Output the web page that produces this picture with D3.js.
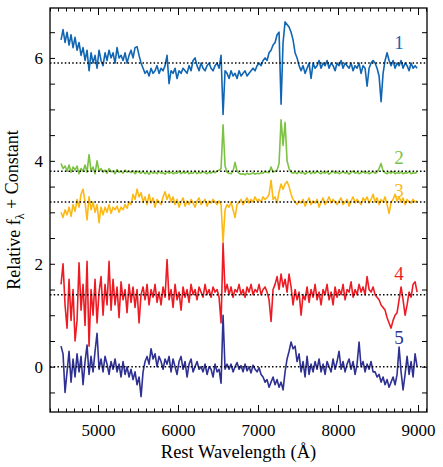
<!DOCTYPE html>
<html><head><meta charset="utf-8">
<script src="https://cdn.jsdelivr.net/npm/d3@7"></script>
<style>body{margin:0;background:#fff} svg{display:block}</style>
</head><body>
<svg id="chart" width="443" height="467"></svg>
<script>
// ---------- DATA ----------
const wavelength = d3.range(4538, 8989, 25); // rest wavelength grid (Å), 179 points
const seriesNames = ["1", "2", "3", "4", "5"];
const constants = [5.9, 3.8, 3.2, 1.4, 0];   // dotted reference levels
const xTickLabels = [5000, 6000, 7000, 8000, 9000];
const yTickLabels = [0, 2, 4, 6];

const s1 = [
6.35,6.55,6.3,6.5,6.25,6.45,6.2,6.4,6.15,6.3,
6.05,6.2,5.95,6.15,5.75,6.1,5.9,6.05,5.8,6.15,
5.95,5.85,6.1,5.95,6.15,6.0,6.1,5.9,6.2,6.0,
6.05,5.95,6.1,5.9,6.05,6.15,6.0,6.2,6.22,6.05,
5.9,5.8,5.7,5.75,5.65,5.8,5.7,5.75,5.85,5.7,
5.8,5.75,5.85,6.05,5.5,5.75,5.7,5.8,5.6,5.75,
5.7,5.8,5.75,5.7,5.85,5.75,5.95,6.0,5.85,5.75,
5.9,5.8,5.75,5.85,5.9,5.8,5.75,5.85,5.9,5.8,
6.05,4.9,5.75,5.7,5.6,5.75,5.65,5.7,5.6,5.75,
5.65,5.7,5.75,5.65,5.7,5.75,5.8,5.75,5.85,5.9,
5.85,5.95,6.0,5.95,6.1,6.15,6.25,6.3,6.45,6.5,
5.1,6.3,6.7,6.65,6.6,6.5,6.35,6.1,6.0,5.85,
5.75,5.85,5.7,5.8,5.9,5.6,5.9,5.8,5.85,5.95,
5.8,5.9,5.85,5.95,5.8,5.9,5.85,5.75,5.9,5.85,
5.95,5.8,5.9,5.85,5.8,5.9,5.75,5.85,5.8,5.9,
5.7,5.85,5.8,5.45,5.8,5.9,5.95,5.9,5.8,5.65,
5.15,5.7,5.95,6.1,5.95,5.85,5.95,5.8,5.9,5.85,
5.95,5.8,5.9,5.85,5.75,5.9,5.8,5.85,5.8];

const s2 = [
3.95,3.85,3.9,3.8,3.92,3.78,3.88,3.82,3.9,3.75,
3.85,3.8,3.92,3.78,4.12,3.8,3.88,3.75,4.0,3.8,
3.85,3.78,3.82,3.76,3.85,3.79,3.8,3.75,3.83,3.78,
3.8,3.76,3.82,3.78,3.8,3.77,3.81,3.75,3.8,3.78,
3.76,3.8,3.75,3.78,3.74,3.79,3.76,3.78,3.75,3.8,
3.76,3.77,3.74,3.79,3.76,3.78,3.75,3.77,3.76,3.8,
3.75,3.78,3.76,3.79,3.75,3.77,3.76,3.8,3.75,3.78,
3.76,3.79,3.77,3.75,3.78,3.76,3.79,3.77,3.8,3.82,
3.85,4.7,3.9,3.78,3.76,3.75,3.8,3.97,3.8,3.76,
3.74,3.75,3.73,3.76,3.74,3.75,3.77,3.74,3.76,3.75,
3.77,3.76,3.79,3.78,3.77,3.88,3.78,3.8,3.82,3.95,
4.8,4.3,4.75,4.0,3.85,3.78,3.76,3.78,3.75,3.79,
3.76,3.78,3.74,3.77,3.79,3.75,3.78,3.76,3.8,3.77,
3.75,3.78,3.76,3.79,3.74,3.77,3.8,3.76,3.78,3.75,
3.77,3.79,3.76,3.78,3.74,3.77,3.8,3.76,3.78,3.75,
3.77,3.79,3.76,3.78,3.75,3.77,3.79,3.76,3.78,3.85,
3.95,3.8,3.77,3.75,3.78,3.76,3.79,3.75,3.77,3.76,
3.78,3.75,3.77,3.76,3.79,3.75,3.77,3.76,3.78];

const s3 = [
3.0,2.9,3.05,2.95,3.1,2.92,3.15,3.02,3.25,3.1,
3.35,3.45,3.2,2.85,3.3,3.05,3.2,3.0,3.15,2.8,
3.1,2.95,3.1,3.0,3.15,2.98,3.1,3.05,3.12,3.0,
3.1,3.05,3.15,3.08,3.2,3.15,3.35,3.25,3.45,3.3,
3.38,3.2,3.3,3.15,3.35,3.18,3.28,3.1,3.25,3.2,
3.15,3.3,3.4,3.25,3.35,3.2,3.3,3.15,3.25,3.1,
3.2,3.28,3.12,3.22,3.15,3.25,3.18,3.1,3.22,3.28,
3.15,3.2,3.25,3.12,3.22,3.18,3.25,3.2,3.15,3.22,
3.15,2.42,3.05,3.15,3.1,3.2,3.05,2.9,3.15,3.2,
3.25,3.15,3.22,3.28,3.18,3.25,3.2,3.3,3.22,3.25,
3.2,3.3,3.25,3.28,3.35,3.62,3.25,3.3,3.18,3.4,
3.55,3.45,3.55,3.6,3.5,3.35,3.25,3.2,3.15,3.22,
3.18,3.25,3.12,3.2,3.28,3.15,3.22,3.18,3.25,3.1,
3.2,3.28,3.15,3.22,3.3,3.18,3.25,3.2,3.15,3.22,
3.28,3.15,3.2,3.25,3.12,3.22,3.3,3.18,3.25,3.2,
3.15,3.28,3.22,3.3,3.18,3.25,3.35,3.2,3.28,3.15,
3.25,3.2,3.3,3.15,2.98,3.2,3.25,3.35,3.22,3.3,
3.2,3.28,3.15,3.25,3.2,3.18,3.25,3.2,3.22];

const s4 = [
1.6,2.0,1.2,0.75,1.7,0.9,1.5,0.5,0.9,2.02,
1.1,1.6,0.8,2.05,0.4,1.5,1.0,1.7,0.85,1.45,
1.75,1.0,1.6,1.2,2.05,1.1,1.7,1.2,1.55,0.95,
1.65,1.3,1.5,1.05,1.6,1.25,1.55,1.15,1.5,0.85,
1.4,1.55,1.3,1.6,1.2,1.5,1.35,1.6,1.25,1.45,
1.2,1.55,1.35,2.08,1.3,1.5,1.15,1.6,1.3,1.45,
1.1,1.55,1.35,1.5,1.25,1.6,1.4,1.5,1.3,1.55,
1.45,1.35,1.6,1.4,1.5,1.35,1.55,1.45,1.5,1.35,
0.85,2.4,1.45,1.6,1.4,1.55,1.35,1.5,1.45,1.6,
1.4,1.5,1.35,1.55,1.45,1.6,1.4,1.5,1.45,1.6,
1.4,1.5,1.55,1.45,1.3,0.88,1.5,1.6,1.75,1.5,
1.8,1.55,1.7,1.45,1.8,1.55,1.2,1.5,1.3,1.45,
1.0,1.4,1.3,1.55,1.25,1.5,1.35,1.6,1.3,1.45,
1.2,1.5,1.4,1.6,1.3,1.45,1.2,1.55,1.35,1.5,
1.4,1.6,1.3,1.5,1.45,1.65,1.35,1.5,1.4,1.6,
1.45,1.55,1.4,1.75,1.5,1.45,1.55,1.4,1.35,1.3,
1.2,1.15,1.1,0.95,0.85,0.75,0.9,1.0,1.05,1.3,
1.55,1.3,1.0,1.2,1.45,1.35,1.6,1.65,1.45];

const s5 = [
0.4,0.25,-0.5,-0.1,0.3,-0.3,0.15,-0.2,0.25,-0.1,
0.2,-0.35,0.1,0.42,-0.15,0.2,-0.1,0.3,0.65,-0.05,
0.15,-0.1,0.2,0.05,-0.15,0.1,-0.05,0.15,-0.1,0.05,
-0.2,0.1,-0.15,0.0,-0.2,-0.05,-0.25,-0.1,-0.35,-0.2,
-0.58,-0.1,0.1,0.2,0.05,0.35,0.15,0.25,0.0,0.2,
0.1,-0.05,0.15,0.05,0.2,-0.1,0.15,0.0,-0.15,0.1,
0.2,-0.05,0.1,-0.2,0.05,0.15,-0.1,0.0,0.1,-0.05,
0.0,-0.1,0.05,-0.15,0.0,-0.05,-0.2,0.05,-0.1,-0.05,
-0.32,1.0,-0.05,0.05,-0.05,0.05,-0.1,0.0,0.08,-0.05,
0.02,-0.1,0.05,-0.08,0.0,-0.12,0.03,-0.05,-0.1,-0.02,
-0.15,-0.2,-0.3,-0.25,-0.4,-0.3,-0.2,-0.35,-0.25,-0.4,
-0.3,-0.45,-0.1,0.15,0.3,0.48,0.35,0.4,0.1,0.25,
-0.1,0.1,-0.2,0.2,-0.15,0.05,-0.1,0.1,-0.05,0.15,
-0.1,0.05,-0.15,0.1,0.0,-0.1,0.15,-0.05,0.1,0.3,
-0.05,0.1,-0.1,0.05,0.15,-0.05,0.1,-0.15,0.05,0.48,
0.0,0.1,-0.1,0.05,-0.05,0.1,-0.1,-0.1,-0.2,-0.15,
-0.3,-0.2,-0.35,-0.25,-0.4,-0.3,-0.2,-0.35,-0.15,0.38,
-0.1,-0.45,-0.15,0.2,-0.15,0.1,-0.2,0.25,0.0];

const seriesValues = [s1, s2, s3, s4, s5];
const colors = ["#1166b3", "#7cc243", "#fdb913", "#ed1c24", "#2e3192"];

// ---------- LAYOUT ----------
const M = {left: 50, right: 427, top: 8, bottom: 412};
const labelAt = {wl: 8762, vals: [6.17, 3.94, 3.30, 1.68, 0.44]};
const FONT = "'Liberation Serif','Times New Roman',Times,serif";

const svg = d3.select("#chart");
const x = d3.scaleLinear().domain([4400, 9112]).range([M.left, M.right]);
const y = d3.scaleLinear().domain([-0.88, 6.97]).range([M.bottom, M.top]);

const line = d3.line().x(d => x(d[0])).y(d => y(d[1]));

// spectra
seriesValues.forEach((vals, i) => {
  const pts = wavelength.map((w, j) => [w, vals[j]]);
  svg.append("path").datum(pts)
    .attr("d", line)
    .attr("fill", "none")
    .attr("stroke", colors[i])
    .attr("stroke-width", 1.6)
    .attr("stroke-linejoin", "round");
});

// dotted constant levels
svg.selectAll("line.lvl").data(constants).enter().append("line")
  .attr("x1", M.left).attr("x2", M.right)
  .attr("y1", d => y(d)).attr("y2", d => y(d))
  .attr("stroke", "#000").attr("stroke-width", 1.5)
  .attr("stroke-dasharray", "1.5,2.2");

// series labels
svg.selectAll("text.lab").data(seriesNames).enter().append("text")
  .attr("x", x(labelAt.wl)).attr("y", (d, i) => y(labelAt.vals[i]))
  .attr("text-anchor", "middle")
  .attr("fill", (d, i) => colors[i])
  .style("font-family", FONT).style("font-size", "19px")
  .text(d => d);

// axes
const minorX = d3.range(4400, 9101, 100).filter(v => v % 1000 !== 0);
const majorX = d3.range(5000, 9001, 1000);
const yTicks = d3.range(-0.5, 6.51, 0.5);

function styleAxis(g) {
  g.select(".domain").remove();
  g.selectAll("line").attr("stroke", "#000").attr("stroke-width", 1);
  g.selectAll("text").style("font-family", FONT).style("font-size", "17px").attr("fill", "#000");
}

svg.append("g").attr("transform", `translate(0,${M.bottom})`)
  .call(d3.axisBottom(x).tickValues(minorX).tickSize(-3.5).tickFormat(""))
  .call(styleAxis);
svg.append("g").attr("transform", `translate(0,${M.bottom})`)
  .call(d3.axisBottom(x).tickValues(xTickLabels).tickSize(-7).tickPadding(12).tickFormat(d3.format("d")))
  .call(styleAxis);
svg.append("g").attr("transform", `translate(0,${M.top})`)
  .call(d3.axisTop(x).tickValues(minorX).tickSize(-3.5).tickFormat(""))
  .call(styleAxis);
svg.append("g").attr("transform", `translate(0,${M.top})`)
  .call(d3.axisTop(x).tickValues(majorX).tickSize(-7).tickFormat(""))
  .call(styleAxis);
svg.append("g").attr("transform", `translate(${M.left},0)`)
  .call(d3.axisLeft(y).tickValues(yTicks).tickSize(-5).tickPadding(7)
    .tickFormat(d => yTickLabels.includes(d) ? d3.format("d")(d) : ""))
  .call(styleAxis);
svg.append("g").attr("transform", `translate(${M.right},0)`)
  .call(d3.axisRight(y).tickValues(yTicks).tickSize(-5).tickFormat(""))
  .call(styleAxis);

// frame
svg.append("rect")
  .attr("x", M.left).attr("y", M.top)
  .attr("width", M.right - M.left).attr("height", M.bottom - M.top)
  .attr("fill", "none").attr("stroke", "#000").attr("stroke-width", 1.3);

// axis titles
svg.append("text")
  .attr("x", (M.left + M.right) / 2).attr("y", 458)
  .attr("text-anchor", "middle")
  .style("font-family", FONT).style("font-size", "18.5px")
  .text("Rest Wavelength (Å)");

const yt = svg.append("text")
  .attr("transform", `translate(20,${(M.top + M.bottom) / 2}) rotate(-90)`)
  .attr("text-anchor", "middle")
  .style("font-family", FONT).style("font-size", "18px");
yt.append("tspan").text("Relative f");
yt.append("tspan").attr("dy", "0.3em").style("font-size", "12px").text("λ");
yt.append("tspan").attr("dy", "-0.3em").text(" + Constant");
</script>
</body></html>
